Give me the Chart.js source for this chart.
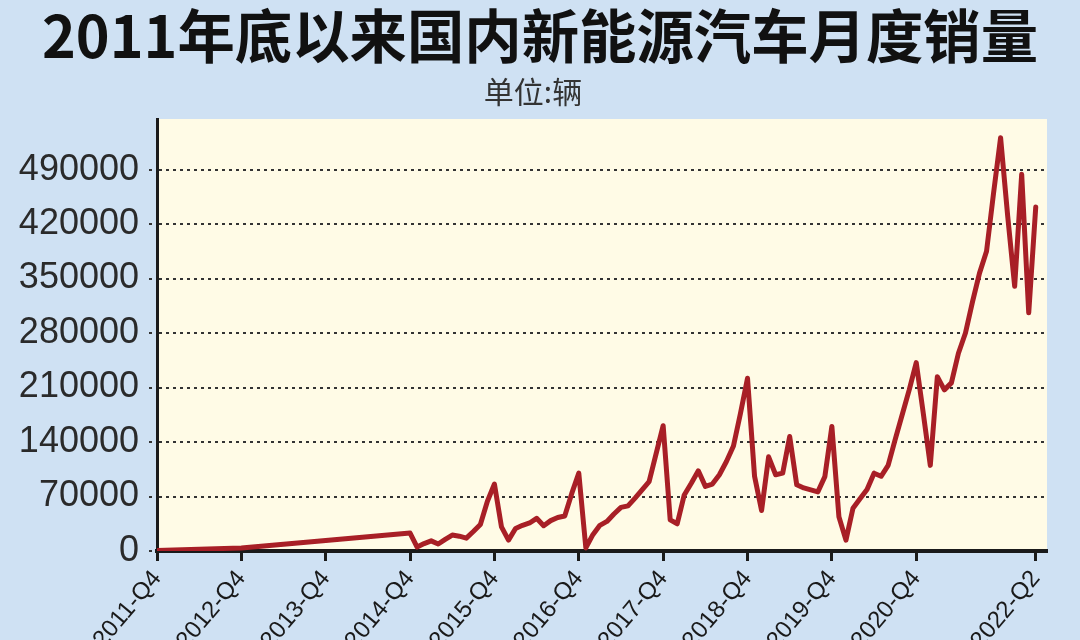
<!DOCTYPE html>
<html lang="zh">
<head>
    <meta charset="UTF-8">
    <title>2011年底以来国内新能源汽车月度销量</title>
    <script src="https://cdn.jsdelivr.net/npm/chart.js"></script>
    <style>
        body { margin: 0; background-color: #cfe1f3; }
        #chart { display: block; }
    </style>
</head>
<body>
    <canvas id="chart" width="1080" height="640"></canvas>

    <script>
        // year-end points before monthly data starts
        const earlyMonths = ['2011-12', '2012-12'];
        const earlySales = [500, 4000];

        // monthly sales from 2014-12 to 2022-05 (units: vehicles)
        const firstMonth = '2014-12';
        const monthlySales = [
            23000,                                                                  // 2014-12
            5000, 9500, 13000, 9000, 15000, 20500, 19000, 16500, 25000, 34000, 64000, 86000,       // 2015
            31000, 14000, 29000, 33000, 36000, 42000, 32500, 39000, 43000, 45000, 74000, 100000,   // 2016
            4000, 21000, 33000, 38000, 47500, 56000, 58000, 68000, 78500, 89000, 125000, 161000,   // 2017
            40000, 35000, 72000, 87000, 103000, 83000, 86000, 98000, 115000, 135000, 177000, 222000, // 2018
            96000, 52000, 121000, 98000, 100000, 147000, 85000, 81000, 78500, 76000, 95500, 160000, // 2019
            44000, 14000, 55000, 67000, 79000, 100000, 96000, 110000, 143000, 175000, 207000, 242000, // 2020
            177000, 110000, 224000, 207000, 216000, 254000, 280000, 320000, 357000, 385000, 460000, 531000, // 2021
            431000, 340000, 484000, 306000, 442000                                  // 2022
        ];

        const tickMonths = ['2011-12', '2012-12', '2013-12', '2014-12', '2015-12', '2016-12',
                            '2017-12', '2018-12', '2019-12', '2020-12', '2022-05'];
        const tickLabels = ['2011-Q4', '2012-Q4', '2013-Q4', '2014-Q4', '2015-Q4', '2016-Q4',
                            '2017-Q4', '2018-Q4', '2019-Q4', '2020-Q4', '2022-Q2'];
        const yTicks = [0, 70000, 140000, 210000, 280000, 350000, 420000, 490000];

        // month string -> months since 2011-12
        function monthIndex(s) {
            const [y, m] = s.split('-').map(Number);
            return (y - 2011) * 12 + (m - 12);
        }

        const points = [];
        earlyMonths.forEach((mo, i) => points.push({ x: monthIndex(mo), y: earlySales[i] }));
        const start = monthIndex(firstMonth);
        monthlySales.forEach((v, i) => points.push({ x: start + i, y: v }));

        const tickPos = tickMonths.map(monthIndex);

        // backgrounds + title text
        const decor = {
            id: 'decor',
            beforeDraw(chart) {
                const ctx = chart.ctx;
                const a = chart.chartArea;
                ctx.save();
                ctx.fillStyle = '#cfe1f3';
                ctx.fillRect(0, 0, chart.width, chart.height);
                ctx.fillStyle = '#fffbe6';
                ctx.fillRect(a.left, a.top, a.right - a.left, a.bottom - a.top);
                ctx.restore();
            },
            afterDraw(chart) {
                const ctx = chart.ctx;
                ctx.save();
                ctx.fillStyle = '#111';
                ctx.textAlign = 'center';
                ctx.textBaseline = 'middle';
                ctx.font = 'bold 58px "Noto Sans CJK SC"';
                const title = '2011年底以来国内新能源汽车月度销量';
                const w = ctx.measureText(title).width;
                ctx.translate(540, 36);
                ctx.scale(996 / w, 1);
                ctx.fillText(title, 0, 0);
                ctx.restore();

                ctx.save();
                ctx.fillStyle = '#333';
                ctx.textAlign = 'center';
                ctx.textBaseline = 'middle';
                ctx.font = '30px "Noto Sans CJK SC"';
                ctx.fillText('单位:辆', 533, 92);
                ctx.restore();
            }
        };

        new Chart(document.getElementById('chart'), {
            type: 'line',
            data: {
                datasets: [{
                    data: points,
                    borderColor: '#a81f26',
                    borderWidth: 5,
                    borderJoinStyle: 'round',
                    borderCapStyle: 'round',
                    pointRadius: 0,
                    tension: 0,
                    fill: false,
                }],
            },
            plugins: [decor],
            options: {
                responsive: false,
                animation: false,
                devicePixelRatio: 1,
                layout: { padding: { top: 119, right: 33, left: 0, bottom: 0 } },
                plugins: { legend: { display: false }, tooltip: { enabled: false } },
                scales: {
                    x: {
                        type: 'linear',
                        min: 0,
                        max: 126.6,
                        afterBuildTicks: (scale) => { scale.ticks = tickPos.map(v => ({ value: v })); },
                        afterFit: (scale) => { scale.height = 89; },
                        grid: {
                            drawOnChartArea: false,
                            drawTicks: true,
                            tickLength: 10,
                            tickWidth: 3,
                            tickColor: '#1a1a1a',
                        },
                        border: { display: true, color: '#1a1a1a', width: 4 },
                        ticks: {
                            autoSkip: false,
                            minRotation: 50,
                            maxRotation: 50,
                            padding: 4,
                            color: '#1a1a1a',
                            font: { family: 'Liberation Sans', size: 24 },
                            callback: (v) => tickLabels[tickPos.indexOf(v)],
                        },
                    },
                    y: {
                        min: 0,
                        max: 555000,
                        afterBuildTicks: (scale) => { scale.ticks = yTicks.map(v => ({ value: v })); },
                        afterFit: (scale) => { scale.width = 157; },
                        grid: {
                            color: (c) => c.tick && c.tick.value === 0 ? 'rgba(0,0,0,0)' : '#333',
                            lineWidth: 2,
                            tickLength: 8,
                            tickColor: '#333',
                            tickBorderDash: [3, 4],
                        },
                        border: { display: true, color: '#1a1a1a', width: 3, dash: [3, 4] },
                        ticks: {
                            padding: 10,
                            color: '#2a2a2a',
                            font: { family: 'Liberation Sans', size: 36 },
                            callback: (v) => String(v),
                        },
                    },
                },
            },
        });
    </script>
</body>
</html>
